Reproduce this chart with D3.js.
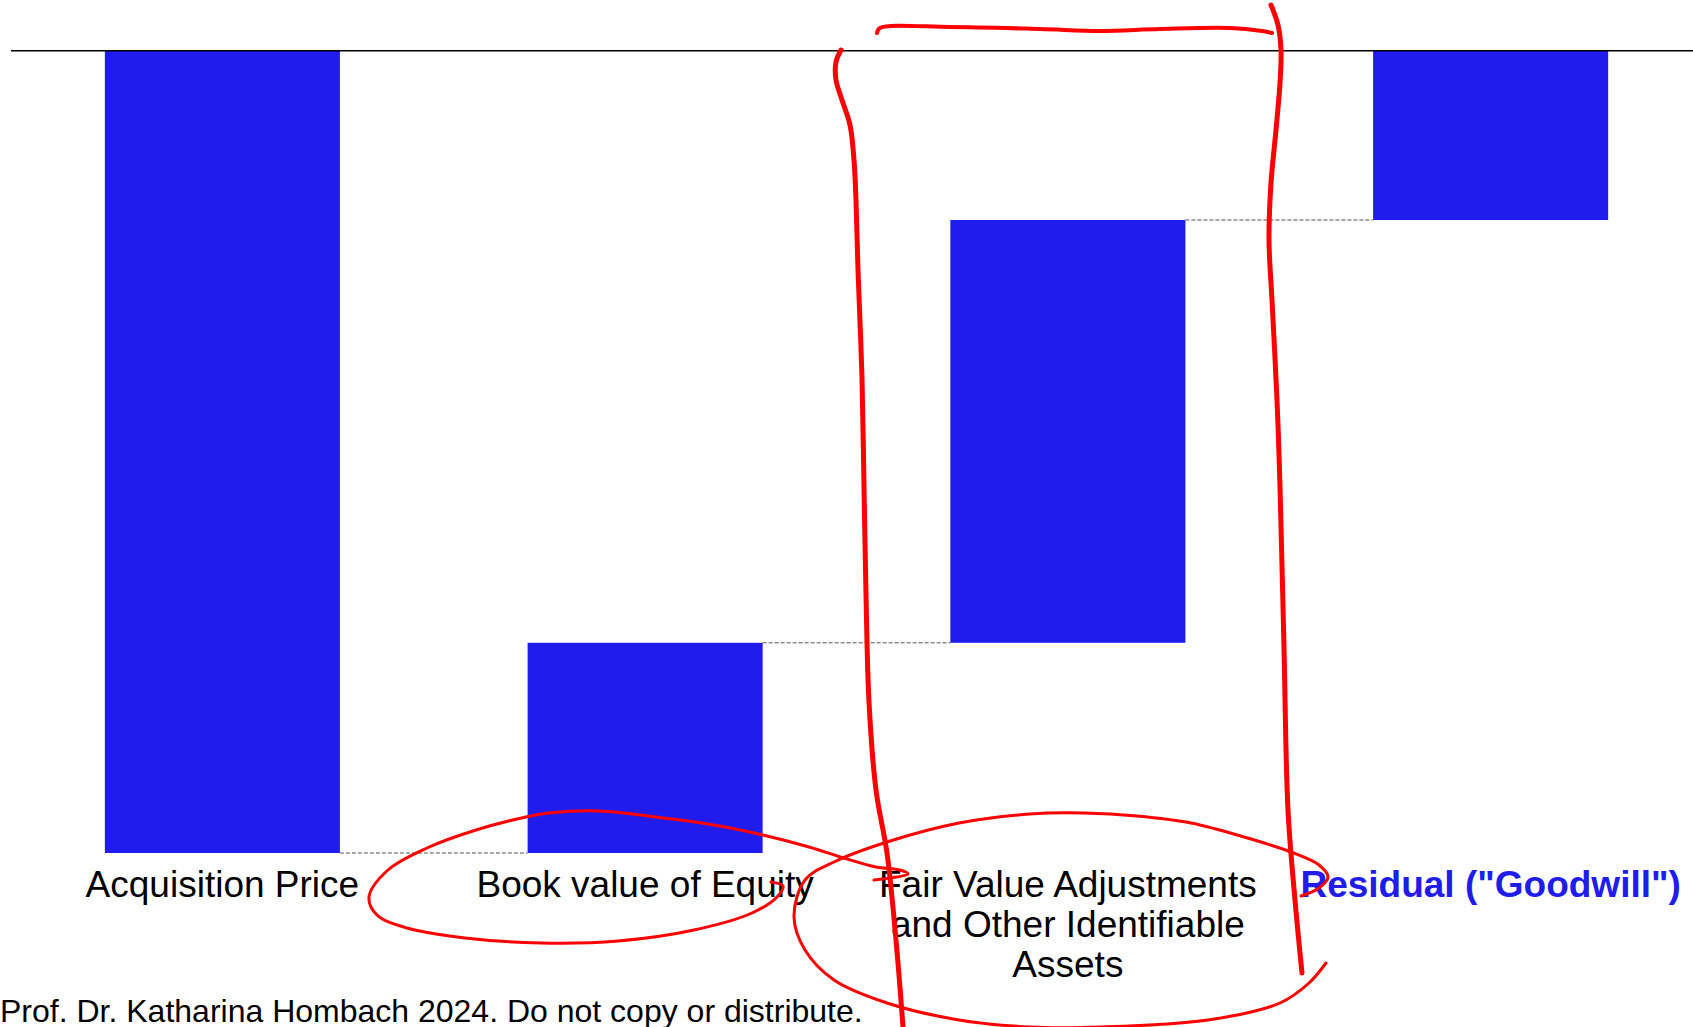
<!DOCTYPE html>
<html><head><meta charset="utf-8">
<script src="https://cdn.jsdelivr.net/npm/d3@7"></script>
<style>html,body{margin:0;padding:0;background:#fff;overflow:hidden}</style>
</head><body>
<svg id="chart" width="1693" height="1027"></svg>
<script>
// ---- data ----
const categories = ["Acquisition Price", "Book value of Equity", "Fair Value Adjustments and Other Identifiable Assets", 'Residual ("Goodwill")'];
const values = [100, 26.2, 52.7, 21.1];
const barKinds = ["total", "delta", "delta", "delta"];
const highlightCategory = 'Residual ("Goodwill")';
const footerText = "Prof. Dr. Katharina Hombach 2024. Do not copy or distribute.";

// hand-drawn red ink overlay (annotation, not data), in page pixels
const inkStrokes = [
  {w: 4, pts: [[877,33],[880,28],[950,27],[1040,29],[1100,31],[1160,29],[1230,28],[1262,31],[1272,33]]},
  {w: 5, pts: [[1271,5],[1278,25],[1281,50],[1280,83],[1276,130],[1271,183],[1269,240],[1272,300],[1277,400],[1280,486],[1284,648],[1288,810],[1295,900],[1302,973]]},
  {w: 5, pts: [[841,50],[836,62],[836,80],[842,100],[850,125],[854,160],[856,200],[858,270],[862,378],[864,486],[866,594],[869,702],[876,790],[887,853],[896,940],[903,1027]]},
  {w: 3, pts: [[874,880],[908,874],[900,870],[876,867],[844,858],[809,847],[763,835],[714,825],[656,817],[599,811],[549,813],[526,817],[476,830],[427,848],[388,870],[369,897],[377,915],[407,928],[465,938],[541,943],[618,941],[694,930],[752,913],[777,897],[783,886],[771,882]]},
  {w: 3, pts: [[1301,896],[1319,888],[1328,877],[1319,865],[1291,852],[1244,837],[1191,823],[1137,816],[1084,813],[1030,814],[959,823],[887,842],[834,862],[805,880],[794,917],[805,950],[834,980],[887,1003],[959,1020],[1030,1027],[1101,1027],[1208,1020],[1280,1003],[1309,983],[1326,963]]}
];

// ---- chart ----
const W = 1693, H = 1027;
const FONT = "'Liberation Sans', Arial, Helvetica, sans-serif";
const BLUE = "#201cee";
const svg = d3.select("#chart");
svg.append("rect").attr("width", W).attr("height", H).attr("fill", "#fff");

const x = d3.scaleBand().domain(categories).range([11, 1702]).paddingInner(0.444).paddingOuter(0.222);
const y = d3.scaleLinear().domain([0, 100]).range([853, 50.7]);

let run = 0;
const bars = categories.map((c, i) => {
  let y0, y1;
  if (barKinds[i] === "total") { y0 = 0; y1 = values[i]; run = 0; }
  else { y0 = run; y1 = run + values[i]; run = y1; }
  return {c, i, y0, y1};
});

// bars
svg.append("g").selectAll("rect").data(bars).join("rect")
  .attr("x", d => x(d.c))
  .attr("width", x.bandwidth())
  .attr("y", d => y(Math.max(d.y0, d.y1)))
  .attr("height", d => Math.abs(y(d.y0) - y(d.y1)))
  .attr("fill", BLUE);

// connectors
svg.append("g").selectAll("line").data(bars.slice(1)).join("line")
  .attr("x1", d => x(categories[d.i - 1]) + x.bandwidth())
  .attr("x2", d => x(d.c))
  .attr("y1", d => y(d.y0)).attr("y2", d => y(d.y0))
  .attr("stroke", "#555").attr("stroke-width", 1).attr("stroke-dasharray", "4,2");

// top reference line
svg.append("line")
  .attr("x1", x.range()[0]).attr("x2", W)
  .attr("y1", y(d3.max(values))).attr("y2", y(d3.max(values)))
  .attr("stroke", "#000").attr("stroke-width", 1.6);

// category labels
const labelG = svg.append("g").attr("font-family", FONT).attr("font-size", 37).attr("text-anchor", "middle");
const maxW = x.step() * 0.97;
categories.forEach(c => {
  const hl = c === highlightCategory;
  const cx = x(c) + x.bandwidth() / 2;
  const t = labelG.append("text")
    .attr("x", cx).attr("y", 897)
    .attr("fill", hl ? BLUE : "#000")
    .attr("font-weight", hl ? "bold" : "normal");
  const words = c.split(" ");
  let line = [];
  let ts = t.append("tspan").attr("x", cx).attr("dy", 0);
  words.forEach(wd => {
    line.push(wd);
    ts.text(line.join(" "));
    if (ts.node().getComputedTextLength() > maxW && line.length > 1) {
      line.pop(); ts.text(line.join(" "));
      line = [wd];
      ts = t.append("tspan").attr("x", cx).attr("dy", 40).text(wd);
    }
  });
});

// footer
svg.append("text").attr("x", 0).attr("y", 1022)
  .attr("font-family", FONT).attr("font-size", 32).attr("fill", "#000")
  .text(footerText);

// ink overlay
const ink = d3.line().curve(d3.curveCatmullRom.alpha(0.5));
svg.append("g").selectAll("path").data(inkStrokes).join("path")
  .attr("d", d => ink(d.pts))
  .attr("fill", "none").attr("stroke", "#ff0000")
  .attr("stroke-width", d => d.w)
  .attr("stroke-linecap", "round").attr("stroke-linejoin", "round");
</script>
</body></html>
